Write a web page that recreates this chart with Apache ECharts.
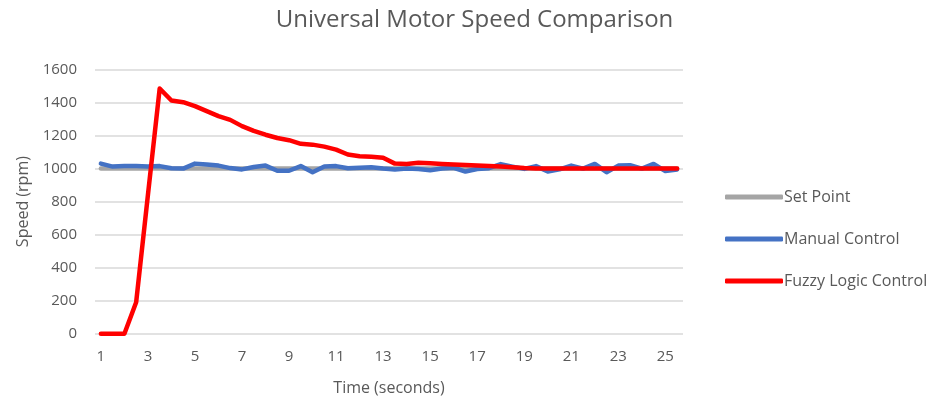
<!DOCTYPE html>
<html>
<head>
<meta charset="utf-8">
<script src="https://cdn.jsdelivr.net/npm/echarts@6/dist/echarts.min.js"></script>
<style>
  html, body { margin: 0; padding: 0; background: #fff; }
  #chart { width: 949px; height: 403px; }
</style>
</head>
<body>
<div id="chart"></div>
<script>
// time in seconds, sampled every half second
var times = ['1', '1.5', '2', '2.5', '3', '3.5', '4', '4.5', '5', '5.5',
             '6', '6.5', '7', '7.5', '8', '8.5', '9', '9.5', '10', '10.5',
             '11', '11.5', '12', '12.5', '13', '13.5', '14', '14.5', '15', '15.5',
             '16', '16.5', '17', '17.5', '18', '18.5', '19', '19.5', '20', '20.5',
             '21', '21.5', '22', '22.5', '23', '23.5', '24', '24.5', '25', '25.5'];

var setPoint = [1000, 1000, 1000, 1000, 1000, 1000, 1000, 1000, 1000, 1000,
                1000, 1000, 1000, 1000, 1000, 1000, 1000, 1000, 1000, 1000,
                1000, 1000, 1000, 1000, 1000, 1000, 1000, 1000, 1000, 1000,
                1000, 1000, 1000, 1000, 1000, 1000, 1000, 1000, 1000, 1000,
                1000, 1000, 1000, 1000, 1000, 1000, 1000, 1000, 1000, 1000];

var manualControl = [1030, 1012, 1015, 1015, 1013, 1015, 1002, 1000, 1030, 1025,
                     1018, 1003, 995, 1010, 1018, 987, 987, 1015, 978, 1012,
                     1015, 1002, 1005, 1008, 1000, 994, 1000, 997, 990, 1000,
                     1005, 982, 997, 1002, 1027, 1012, 998, 1015, 982, 995,
                     1018, 1000, 1028, 978, 1018, 1020, 1000, 1028, 985, 995];

var fuzzyControl = [0, 0, 0, 190, 840, 1485, 1412, 1402, 1378, 1348,
                    1318, 1295, 1257, 1228, 1205, 1185, 1172, 1150, 1145, 1133,
                    1115, 1085, 1075, 1072, 1065, 1030, 1028, 1035, 1032, 1028,
                    1025, 1022, 1018, 1015, 1012, 1008, 1003, 1000, 1000, 1000,
                    1000, 1000, 1000, 1000, 1000, 1000, 1000, 1000, 1000, 1000];

var font = '"Open Sans", sans-serif';
var textColor = '#595959';

var chart = echarts.init(document.getElementById('chart'));
var option = {
    animation: false,
    textStyle: { fontFamily: font },
    title: {
        text: 'Universal Motor Speed Comparison',
        left: 'center',
        top: 3,
        textStyle: { fontFamily: font, fontSize: 24, fontWeight: 'normal', color: textColor }
    },
    legend: {
        orient: 'vertical',
        left: 720,
        top: 182,
        itemWidth: 58,
        itemHeight: 5,
        itemGap: 22,
        icon: 'roundRect',
        textStyle: { fontFamily: font, fontSize: 16, color: textColor, lineHeight: 20, padding: [0, 0, 0, -4] },
        data: ['Set Point', 'Manual Control', 'Fuzzy Logic Control']
    },
    grid: {
        left: 95,
        right: 266,
        top: 69.5,
        bottom: 69.3
    },
    xAxis: {
        type: 'category',
        data: times,
        boundaryGap: true,
        name: 'Time (seconds)',
        nameLocation: 'middle',
        nameGap: 47,
        nameTextStyle: { fontFamily: font, fontSize: 16, color: textColor },
        axisLine: { show: false },
        axisTick: { show: false },
        axisLabel: { interval: 3, margin: 16, fontSize: 15, color: textColor, fontFamily: font }
    },
    yAxis: {
        type: 'value',
        min: 0,
        max: 1600,
        interval: 200,
        name: 'Speed (rpm)',
        nameLocation: 'middle',
        nameGap: 62,
        nameTextStyle: { fontFamily: font, fontSize: 16, color: textColor },
        axisLine: { show: false },
        axisTick: { show: false },
        axisLabel: {
            margin: 18, fontSize: 15, color: textColor, fontFamily: font,
            formatter: function (v) { return String(v); }
        },
        splitLine: { lineStyle: { color: '#D9D9D9', width: 1.5 } }
    },
    series: [
        {
            name: 'Set Point',
            type: 'line',
            data: setPoint,
            showSymbol: false,
            color: '#A5A5A5',
            lineStyle: { width: 4.5, color: '#A5A5A5', cap: 'round', join: 'round' }
        },
        {
            name: 'Manual Control',
            type: 'line',
            data: manualControl,
            showSymbol: false,
            color: '#4472C4',
            lineStyle: { width: 4.5, color: '#4472C4', cap: 'round', join: 'round' }
        },
        {
            name: 'Fuzzy Logic Control',
            type: 'line',
            data: fuzzyControl,
            showSymbol: false,
            color: '#FF0000',
            lineStyle: { width: 4.5, color: '#FF0000', cap: 'round', join: 'round' }
        }
    ]
};
chart.setOption(option);
</script>
</body>
</html>
